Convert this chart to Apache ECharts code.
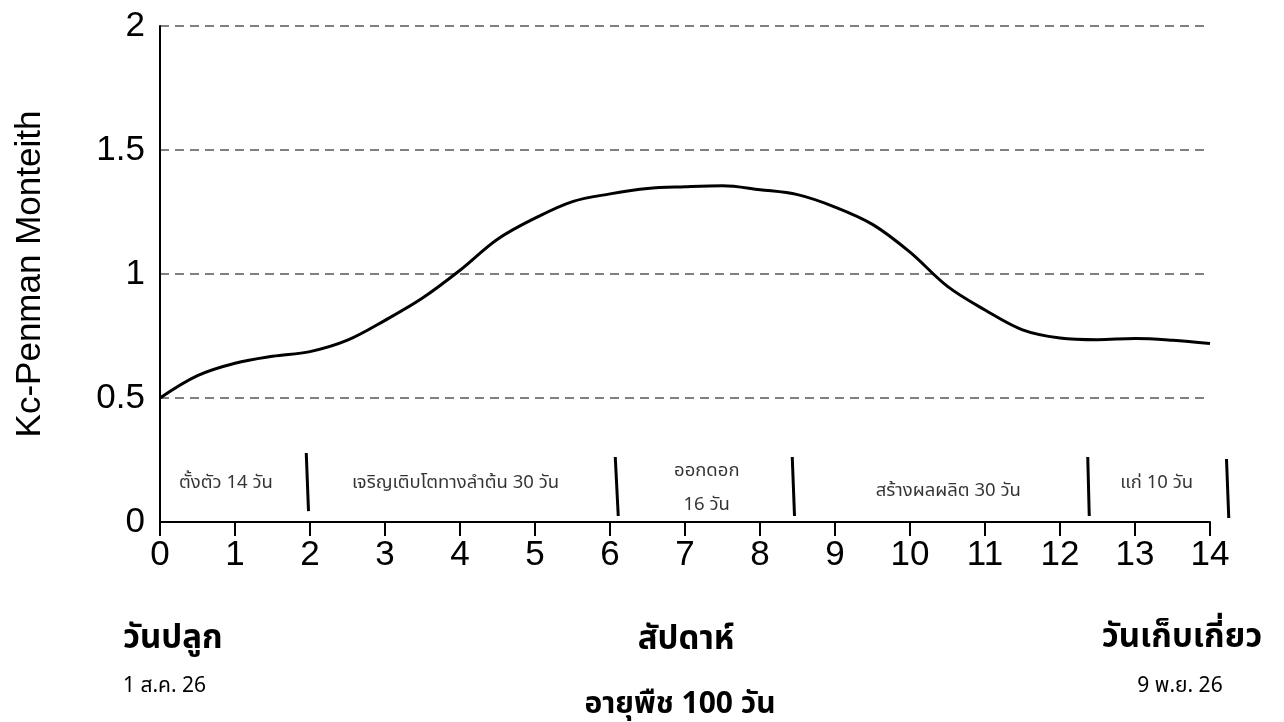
<!DOCTYPE html>
<html>
<head>
<meta charset="utf-8">
<title>Kc-Penman Monteith</title>
<script src="https://cdn.jsdelivr.net/npm/echarts@6/dist/echarts.min.js"></script>
<style>
  html, body { margin: 0; padding: 0; background: #fff; }
  #chart { width: 1284px; height: 722px; }
</style>
</head>
<body>
<div id="chart"></div>
<script>
// weeks after planting and the Kc value
const weeks = [0, 0.5, 1, 1.5, 2, 2.5, 3, 3.5, 4, 4.5, 5, 5.5, 6, 6.5, 7,
  7.5, 8, 8.5, 9, 9.5, 10, 10.5, 11, 11.5, 12, 12.5, 13, 13.5, 14];
const kcValues = [0.5, 0.59, 0.64, 0.668, 0.687, 0.733, 0.813, 0.903, 1.015, 1.14, 1.225,
  1.292, 1.323, 1.345, 1.352, 1.356, 1.34, 1.32, 1.27, 1.2, 1.088, 0.95, 0.855,
  0.775, 0.742, 0.735, 0.74, 0.733, 0.72];

// growth stages
const stageNames = ['ตั้งตัว 14 วัน', 'เจริญเติบโตทางลำต้น 30 วัน', 'ออกดอก\n16 วัน', 'สร้างผลผลิต 30 วัน', 'แก่ 10 วัน'];
const stageCenters = [0.88, 3.94, 7.29, 10.51, 13.29];
const stageLevels = [0.153, 0.153, 0.13, 0.121, 0.153];

// stage dividers: [top, bottom] in axis units
const dividers = [
  [[1.95, 0.278], [1.98, 0.044]],
  [[6.07, 0.262], [6.11, 0.024]],
  [[8.43, 0.262], [8.46, 0.024]],
  [[12.37, 0.262], [12.39, 0.024]],
  [[14.22, 0.254], [14.25, 0.016]]
];

const yTicks = [0, 0.5, 1, 1.5, 2];

const thaiFont = 'Tahoma, "Noto Sans Thai", "Noto Sans", sans-serif';
const latinFont = 'Arial, "Liberation Sans", sans-serif';

const chart = echarts.init(document.getElementById('chart'));

function caption(text, x, y, font, align) {
  return {
    type: 'text',
    style: { text, x, y, font, fill: '#000', textAlign: align || 'center', textVerticalAlign: 'middle' }
  };
}

chart.setOption({
  animation: false,
  grid: { left: 160, right: 74, top: 26, bottom: 200 },
  xAxis: {
    type: 'value',
    min: 0,
    max: 14,
    interval: 1,
    axisLine: { lineStyle: { color: '#000', width: 2 } },
    axisTick: { show: true, length: 14, lineStyle: { color: '#000', width: 2 } },
    axisLabel: { color: '#000', fontSize: 35, fontFamily: latinFont, margin: 16 },
    splitLine: { show: false }
  },
  yAxis: {
    type: 'value',
    min: yTicks[0],
    max: yTicks[yTicks.length - 1],
    interval: 0.5,
    name: 'Kc-Penman Monteith',
    nameLocation: 'middle',
    nameGap: 112,
    nameTextStyle: { color: '#000', fontSize: 35, fontFamily: latinFont },
    axisLine: { show: true, lineStyle: { color: '#000', width: 2 } },
    axisTick: { show: false },
    axisLabel: { color: '#000', fontSize: 35, fontFamily: latinFont, margin: 15 },
    splitLine: { lineStyle: { color: '#808080', width: 2, type: [9, 6] } }
  },
  series: [
    {
      type: 'line',
      data: weeks.map((w, i) => [w, kcValues[i]]),
      smooth: 0.35,
      showSymbol: false,
      lineStyle: { color: '#000', width: 3 },
      z: 3
    },
    {
      type: 'lines',
      coordinateSystem: 'cartesian2d',
      clip: false,
      data: dividers.map(d => ({ coords: d })),
      lineStyle: { color: '#000', width: 3, opacity: 1 },
      silent: true
    },
    {
      type: 'scatter',
      symbolSize: 0,
      silent: true,
      data: stageNames.map((name, i) => ({ value: [stageCenters[i], stageLevels[i]], name })),
      label: {
        show: true,
        position: 'inside',
        formatter: p => p.name,
        color: '#000',
        fontSize: 18.5,
        lineHeight: 34,
        fontFamily: thaiFont
      }
    }
  ],
  graphic: [
    caption('วันปลูก', 123, 641, 'bold 33px ' + thaiFont, 'left'),
    caption('1 ส.ค. 26', 123, 688, '21px ' + thaiFont, 'left'),
    caption('สัปดาห์', 686, 642, 'bold 33px ' + thaiFont),
    caption('อายุพืช 100 วัน', 680, 707, 'bold 30px ' + thaiFont),
    caption('วันเก็บเกี่ยว', 1182, 640, 'bold 33px ' + thaiFont),
    caption('9 พ.ย. 26', 1180, 688, '21px ' + thaiFont)
  ]
});
</script>
</body>
</html>
